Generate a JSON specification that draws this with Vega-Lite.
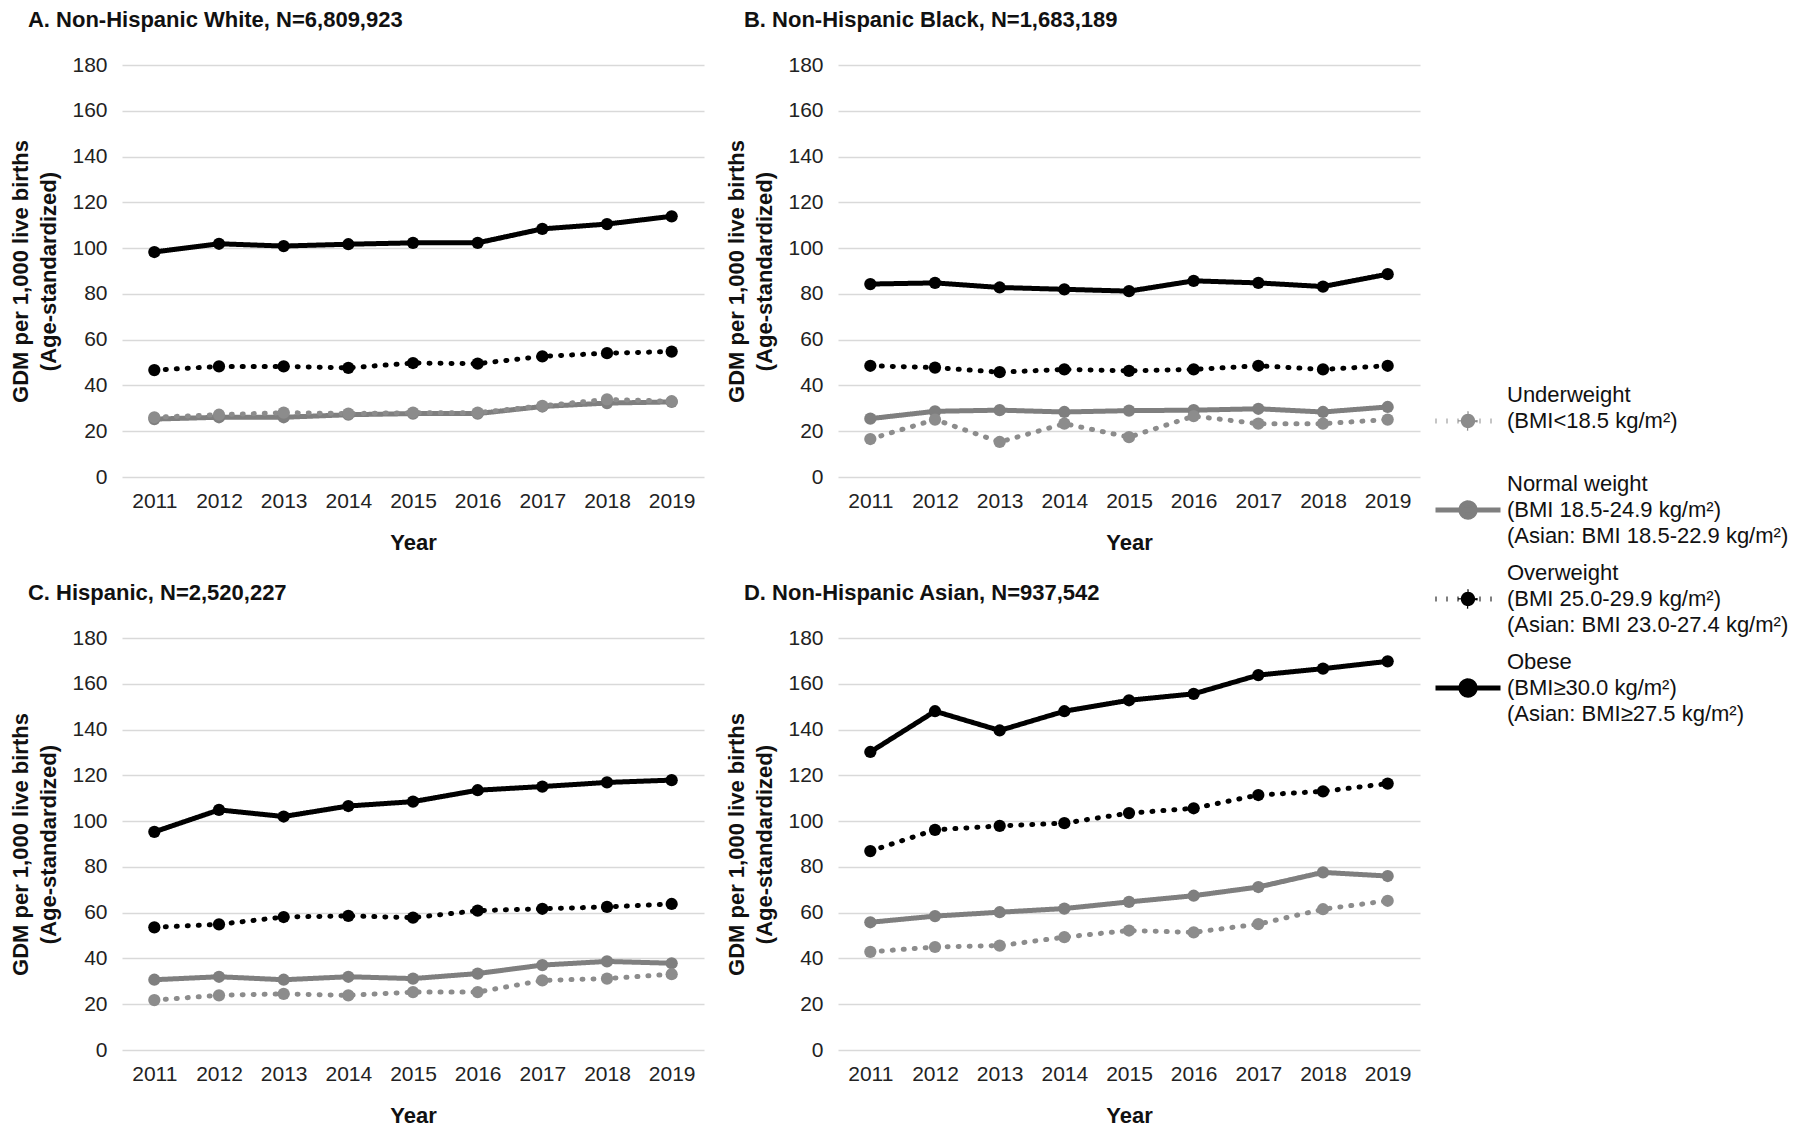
{
  "$schema": "https://vega.github.io/schema/vega-lite/v6.json",
  "padding": {"left": 9, "top": 9, "right": 5, "bottom": 5},
  "background": "white",
  "data": {"values": [
    {"panel":"A","bmi":"Obese","year":2011,"rate":98.3},{"panel":"A","bmi":"Obese","year":2012,"rate":101.9},{"panel":"A","bmi":"Obese","year":2013,"rate":100.9},{"panel":"A","bmi":"Obese","year":2014,"rate":101.7},{"panel":"A","bmi":"Obese","year":2015,"rate":102.3},{"panel":"A","bmi":"Obese","year":2016,"rate":102.3},{"panel":"A","bmi":"Obese","year":2017,"rate":108.4},{"panel":"A","bmi":"Obese","year":2018,"rate":110.5},{"panel":"A","bmi":"Obese","year":2019,"rate":113.9},
    {"panel":"A","bmi":"Overweight","year":2011,"rate":46.7},{"panel":"A","bmi":"Overweight","year":2012,"rate":48.3},{"panel":"A","bmi":"Overweight","year":2013,"rate":48.3},{"panel":"A","bmi":"Overweight","year":2014,"rate":47.7},{"panel":"A","bmi":"Overweight","year":2015,"rate":49.8},{"panel":"A","bmi":"Overweight","year":2016,"rate":49.5},{"panel":"A","bmi":"Overweight","year":2017,"rate":52.7},{"panel":"A","bmi":"Overweight","year":2018,"rate":54.1},{"panel":"A","bmi":"Overweight","year":2019,"rate":54.8},
    {"panel":"A","bmi":"Normal weight","year":2011,"rate":25.3},{"panel":"A","bmi":"Normal weight","year":2012,"rate":26.1},{"panel":"A","bmi":"Normal weight","year":2013,"rate":26.1},{"panel":"A","bmi":"Normal weight","year":2014,"rate":27.2},{"panel":"A","bmi":"Normal weight","year":2015,"rate":27.7},{"panel":"A","bmi":"Normal weight","year":2016,"rate":27.7},{"panel":"A","bmi":"Normal weight","year":2017,"rate":30.8},{"panel":"A","bmi":"Normal weight","year":2018,"rate":32.3},{"panel":"A","bmi":"Normal weight","year":2019,"rate":32.8},
    {"panel":"A","bmi":"Underweight","year":2011,"rate":26.1},{"panel":"A","bmi":"Underweight","year":2012,"rate":27.2},{"panel":"A","bmi":"Underweight","year":2013,"rate":28.1},{"panel":"A","bmi":"Underweight","year":2014,"rate":27.7},{"panel":"A","bmi":"Underweight","year":2015,"rate":28.1},{"panel":"A","bmi":"Underweight","year":2016,"rate":28.1},{"panel":"A","bmi":"Underweight","year":2017,"rate":31.1},{"panel":"A","bmi":"Underweight","year":2018,"rate":33.9},{"panel":"A","bmi":"Underweight","year":2019,"rate":33.1},
    {"panel":"B","bmi":"Obese","year":2011,"rate":84.3},{"panel":"B","bmi":"Obese","year":2012,"rate":84.8},{"panel":"B","bmi":"Obese","year":2013,"rate":82.8},{"panel":"B","bmi":"Obese","year":2014,"rate":82.0},{"panel":"B","bmi":"Obese","year":2015,"rate":81.2},{"panel":"B","bmi":"Obese","year":2016,"rate":85.7},{"panel":"B","bmi":"Obese","year":2017,"rate":84.8},{"panel":"B","bmi":"Obese","year":2018,"rate":83.2},{"panel":"B","bmi":"Obese","year":2019,"rate":88.6},
    {"panel":"B","bmi":"Overweight","year":2011,"rate":48.6},{"panel":"B","bmi":"Overweight","year":2012,"rate":47.8},{"panel":"B","bmi":"Overweight","year":2013,"rate":45.8},{"panel":"B","bmi":"Overweight","year":2014,"rate":47.0},{"panel":"B","bmi":"Overweight","year":2015,"rate":46.4},{"panel":"B","bmi":"Overweight","year":2016,"rate":47.0},{"panel":"B","bmi":"Overweight","year":2017,"rate":48.6},{"panel":"B","bmi":"Overweight","year":2018,"rate":47.0},{"panel":"B","bmi":"Overweight","year":2019,"rate":48.6},
    {"panel":"B","bmi":"Normal weight","year":2011,"rate":25.5},{"panel":"B","bmi":"Normal weight","year":2012,"rate":28.7},{"panel":"B","bmi":"Normal weight","year":2013,"rate":29.2},{"panel":"B","bmi":"Normal weight","year":2014,"rate":28.4},{"panel":"B","bmi":"Normal weight","year":2015,"rate":29.0},{"panel":"B","bmi":"Normal weight","year":2016,"rate":29.2},{"panel":"B","bmi":"Normal weight","year":2017,"rate":29.8},{"panel":"B","bmi":"Normal weight","year":2018,"rate":28.4},{"panel":"B","bmi":"Normal weight","year":2019,"rate":30.6},
    {"panel":"B","bmi":"Underweight","year":2011,"rate":16.6},{"panel":"B","bmi":"Underweight","year":2012,"rate":25.1},{"panel":"B","bmi":"Underweight","year":2013,"rate":15.3},{"panel":"B","bmi":"Underweight","year":2014,"rate":23.3},{"panel":"B","bmi":"Underweight","year":2015,"rate":17.4},{"panel":"B","bmi":"Underweight","year":2016,"rate":26.6},{"panel":"B","bmi":"Underweight","year":2017,"rate":23.3},{"panel":"B","bmi":"Underweight","year":2018,"rate":23.3},{"panel":"B","bmi":"Underweight","year":2019,"rate":25.1},
    {"panel":"C","bmi":"Obese","year":2011,"rate":95.3},{"panel":"C","bmi":"Obese","year":2012,"rate":104.9},{"panel":"C","bmi":"Obese","year":2013,"rate":102.0},{"panel":"C","bmi":"Obese","year":2014,"rate":106.6},{"panel":"C","bmi":"Obese","year":2015,"rate":108.5},{"panel":"C","bmi":"Obese","year":2016,"rate":113.5},{"panel":"C","bmi":"Obese","year":2017,"rate":115.1},{"panel":"C","bmi":"Obese","year":2018,"rate":116.9},{"panel":"C","bmi":"Obese","year":2019,"rate":117.9},
    {"panel":"C","bmi":"Overweight","year":2011,"rate":53.6},{"panel":"C","bmi":"Overweight","year":2012,"rate":54.9},{"panel":"C","bmi":"Overweight","year":2013,"rate":58.1},{"panel":"C","bmi":"Overweight","year":2014,"rate":58.6},{"panel":"C","bmi":"Overweight","year":2015,"rate":57.8},{"panel":"C","bmi":"Overweight","year":2016,"rate":60.9},{"panel":"C","bmi":"Overweight","year":2017,"rate":61.7},{"panel":"C","bmi":"Overweight","year":2018,"rate":62.5},{"panel":"C","bmi":"Overweight","year":2019,"rate":63.8},
    {"panel":"C","bmi":"Normal weight","year":2011,"rate":30.7},{"panel":"C","bmi":"Normal weight","year":2012,"rate":32.0},{"panel":"C","bmi":"Normal weight","year":2013,"rate":30.7},{"panel":"C","bmi":"Normal weight","year":2014,"rate":32.0},{"panel":"C","bmi":"Normal weight","year":2015,"rate":31.2},{"panel":"C","bmi":"Normal weight","year":2016,"rate":33.4},{"panel":"C","bmi":"Normal weight","year":2017,"rate":37.1},{"panel":"C","bmi":"Normal weight","year":2018,"rate":38.7},{"panel":"C","bmi":"Normal weight","year":2019,"rate":37.9},
    {"panel":"C","bmi":"Underweight","year":2011,"rate":21.8},{"panel":"C","bmi":"Underweight","year":2012,"rate":23.9},{"panel":"C","bmi":"Underweight","year":2013,"rate":24.5},{"panel":"C","bmi":"Underweight","year":2014,"rate":23.9},{"panel":"C","bmi":"Underweight","year":2015,"rate":25.3},{"panel":"C","bmi":"Underweight","year":2016,"rate":25.3},{"panel":"C","bmi":"Underweight","year":2017,"rate":30.4},{"panel":"C","bmi":"Underweight","year":2018,"rate":31.2},{"panel":"C","bmi":"Underweight","year":2019,"rate":33.1},
    {"panel":"D","bmi":"Obese","year":2011,"rate":130.2},{"panel":"D","bmi":"Obese","year":2012,"rate":148.0},{"panel":"D","bmi":"Obese","year":2013,"rate":139.6},{"panel":"D","bmi":"Obese","year":2014,"rate":148.0},{"panel":"D","bmi":"Obese","year":2015,"rate":152.8},{"panel":"D","bmi":"Obese","year":2016,"rate":155.6},{"panel":"D","bmi":"Obese","year":2017,"rate":163.8},{"panel":"D","bmi":"Obese","year":2018,"rate":166.6},{"panel":"D","bmi":"Obese","year":2019,"rate":169.8},
    {"panel":"D","bmi":"Overweight","year":2011,"rate":86.9},{"panel":"D","bmi":"Overweight","year":2012,"rate":96.2},{"panel":"D","bmi":"Overweight","year":2013,"rate":97.9},{"panel":"D","bmi":"Overweight","year":2014,"rate":99.1},{"panel":"D","bmi":"Overweight","year":2015,"rate":103.5},{"panel":"D","bmi":"Overweight","year":2016,"rate":105.6},{"panel":"D","bmi":"Overweight","year":2017,"rate":111.4},{"panel":"D","bmi":"Overweight","year":2018,"rate":113.0},{"panel":"D","bmi":"Overweight","year":2019,"rate":116.4},
    {"panel":"D","bmi":"Normal weight","year":2011,"rate":55.8},{"panel":"D","bmi":"Normal weight","year":2012,"rate":58.5},{"panel":"D","bmi":"Normal weight","year":2013,"rate":60.2},{"panel":"D","bmi":"Normal weight","year":2014,"rate":61.8},{"panel":"D","bmi":"Normal weight","year":2015,"rate":64.7},{"panel":"D","bmi":"Normal weight","year":2016,"rate":67.4},{"panel":"D","bmi":"Normal weight","year":2017,"rate":71.2},{"panel":"D","bmi":"Normal weight","year":2018,"rate":77.6},{"panel":"D","bmi":"Normal weight","year":2019,"rate":76.0},
    {"panel":"D","bmi":"Underweight","year":2011,"rate":42.9},{"panel":"D","bmi":"Underweight","year":2012,"rate":45.0},{"panel":"D","bmi":"Underweight","year":2013,"rate":45.6},{"panel":"D","bmi":"Underweight","year":2014,"rate":49.3},{"panel":"D","bmi":"Underweight","year":2015,"rate":52.2},{"panel":"D","bmi":"Underweight","year":2016,"rate":51.4},{"panel":"D","bmi":"Underweight","year":2017,"rate":55.0},{"panel":"D","bmi":"Underweight","year":2018,"rate":61.5},{"panel":"D","bmi":"Underweight","year":2019,"rate":65.2}
  ]},
  "spacing": 29,
  "vconcat": [
    {"spacing": 21, "hconcat": [
      {"title": {"text": "A. Non-Hispanic White, N=6,809,923"},
       "width": 582, "height": 412,
       "transform": [{"filter": "datum.panel === 'A'"}],
       "encoding": {
         "x": {"field": "year", "type": "ordinal", "title": "Year"},
         "y": {"field": "rate", "type": "quantitative", "scale": {"domain": [0, 180], "nice": false}, "axis": {"values": [0,20,40,60,80,100,120,140,160,180]}, "title": ["GDM per 1,000 live births", "(Age-standardized)"]},
         "color": {"field": "bmi", "type": "nominal", "scale": {"domain": ["Underweight", "Normal weight", "Overweight", "Obese"], "range": ["#8c8c8c", "#7f7f7f", "#000000", "#000000"]},
           "legend": {"labelExpr": "datum.label === 'Underweight' ? ['Underweight', '(BMI<18.5 kg/m²)', ''] : datum.label === 'Normal weight' ? ['Normal weight', '(BMI 18.5-24.9 kg/m²)', '(Asian: BMI 18.5-22.9 kg/m²)'] : datum.label === 'Overweight' ? ['Overweight', '(BMI 25.0-29.9 kg/m²)', '(Asian: BMI 23.0-27.4 kg/m²)'] : ['Obese', '(BMI≥30.0 kg/m²)', '(Asian: BMI≥27.5 kg/m²)']",
             "encode": {"labels": {"update": {"dy": {"value": -26}}}}}}
       },
       "layer": [
         {"mark": {"type": "line", "strokeWidth": 5, "strokeCap": "round", "strokeJoin": "round"}, "encoding": {"strokeDash": {"field": "bmi", "type": "nominal", "scale": {"domain": ["Underweight", "Normal weight", "Overweight", "Obese"], "range": [[1, 10], [1, 0], [1, 10], [1, 0]]},
           "legend": {"labelExpr": "datum.label === 'Underweight' ? ['Underweight', '(BMI<18.5 kg/m²)', ''] : datum.label === 'Normal weight' ? ['Normal weight', '(BMI 18.5-24.9 kg/m²)', '(Asian: BMI 18.5-22.9 kg/m²)'] : datum.label === 'Overweight' ? ['Overweight', '(BMI 25.0-29.9 kg/m²)', '(Asian: BMI 23.0-27.4 kg/m²)'] : ['Obese', '(BMI≥30.0 kg/m²)', '(Asian: BMI≥27.5 kg/m²)']",
             "encode": {"labels": {"update": {"dy": {"value": -26}}}}}}}},
         {"mark": {"type": "point", "filled": true, "size": 150, "opacity": 1}}
       ]},
      {"title": {"text": "B. Non-Hispanic Black, N=1,683,189"},
       "width": 582, "height": 412,
       "transform": [{"filter": "datum.panel === 'B'"}],
       "encoding": {
         "x": {"field": "year", "type": "ordinal", "title": "Year"},
         "y": {"field": "rate", "type": "quantitative", "scale": {"domain": [0, 180], "nice": false}, "axis": {"values": [0,20,40,60,80,100,120,140,160,180]}, "title": ["GDM per 1,000 live births", "(Age-standardized)"]},
         "color": {"field": "bmi", "type": "nominal", "scale": {"domain": ["Underweight", "Normal weight", "Overweight", "Obese"], "range": ["#8c8c8c", "#7f7f7f", "#000000", "#000000"]}}
       },
       "layer": [
         {"mark": {"type": "line", "strokeWidth": 5, "strokeCap": "round", "strokeJoin": "round"}, "encoding": {"strokeDash": {"field": "bmi", "type": "nominal", "scale": {"domain": ["Underweight", "Normal weight", "Overweight", "Obese"], "range": [[1, 10], [1, 0], [1, 10], [1, 0]]}}}},
         {"mark": {"type": "point", "filled": true, "size": 150, "opacity": 1}}
       ]}
    ]},
    {"spacing": 21, "hconcat": [
      {"title": {"text": "C. Hispanic, N=2,520,227"},
       "width": 582, "height": 412,
       "transform": [{"filter": "datum.panel === 'C'"}],
       "encoding": {
         "x": {"field": "year", "type": "ordinal", "title": "Year"},
         "y": {"field": "rate", "type": "quantitative", "scale": {"domain": [0, 180], "nice": false}, "axis": {"values": [0,20,40,60,80,100,120,140,160,180]}, "title": ["GDM per 1,000 live births", "(Age-standardized)"]},
         "color": {"field": "bmi", "type": "nominal", "scale": {"domain": ["Underweight", "Normal weight", "Overweight", "Obese"], "range": ["#8c8c8c", "#7f7f7f", "#000000", "#000000"]}}
       },
       "layer": [
         {"mark": {"type": "line", "strokeWidth": 5, "strokeCap": "round", "strokeJoin": "round"}, "encoding": {"strokeDash": {"field": "bmi", "type": "nominal", "scale": {"domain": ["Underweight", "Normal weight", "Overweight", "Obese"], "range": [[1, 10], [1, 0], [1, 10], [1, 0]]}}}},
         {"mark": {"type": "point", "filled": true, "size": 150, "opacity": 1}}
       ]},
      {"title": {"text": "D. Non-Hispanic Asian, N=937,542"},
       "width": 582, "height": 412,
       "transform": [{"filter": "datum.panel === 'D'"}],
       "encoding": {
         "x": {"field": "year", "type": "ordinal", "title": "Year"},
         "y": {"field": "rate", "type": "quantitative", "scale": {"domain": [0, 180], "nice": false}, "axis": {"values": [0,20,40,60,80,100,120,140,160,180]}, "title": ["GDM per 1,000 live births", "(Age-standardized)"]},
         "color": {"field": "bmi", "type": "nominal", "scale": {"domain": ["Underweight", "Normal weight", "Overweight", "Obese"], "range": ["#8c8c8c", "#7f7f7f", "#000000", "#000000"]}}
       },
       "layer": [
         {"mark": {"type": "line", "strokeWidth": 5, "strokeCap": "round", "strokeJoin": "round"}, "encoding": {"strokeDash": {"field": "bmi", "type": "nominal", "scale": {"domain": ["Underweight", "Normal weight", "Overweight", "Obese"], "range": [[1, 10], [1, 0], [1, 10], [1, 0]]}}}},
         {"mark": {"type": "point", "filled": true, "size": 150, "opacity": 1}}
       ]}
    ]}
  ],
  "config": {
    "view": {"stroke": null},
    "font": "Liberation Sans",
    "title": {"anchor": "start", "frame": "bounds", "fontSize": 22, "fontWeight": "bold", "color": "#111111", "dx": 18, "offset": 22},
    "axis": {"gridColor": "#d9d9d9", "gridWidth": 1.5, "domain": false, "ticks": false, "labelFontSize": 21, "labelColor": "#222222", "titleFontSize": 22, "titleFontWeight": "bold", "titleColor": "#111111"},
    "axisX": {"grid": false, "labelAngle": 0, "labelPadding": 13, "titlePadding": 21, "titleFontSize": 22},
    "axisY": {"grid": true, "labelPadding": 15, "titlePadding": 11, "titleLineHeight": 28},
    "style": {"guide-label": {"lineHeight": 26}},
    "scale": {"pointPadding": 0.5},
    "legend": {
      "orient": "none",
      "legendX": 1311,
      "legendY": 321,
      "title": null,
      "symbolType": "M-1,0L1,0M0.22,0A0.22,0.22,0,1,1,-0.22,0A0.22,0.22,0,1,1,0.22,0",
      "symbolSize": 4225,
      "symbolStrokeWidth": 5,
      "labelFontSize": 22,
      "labelColor": "#111111",
      "labelLimit": 600,
      "labelOffset": 4,
      "rowPadding": 15,
      "symbolOpacity": 1
    }
  },
  "resolve": {"scale": {"color": "shared", "strokeDash": "shared"}}
}
